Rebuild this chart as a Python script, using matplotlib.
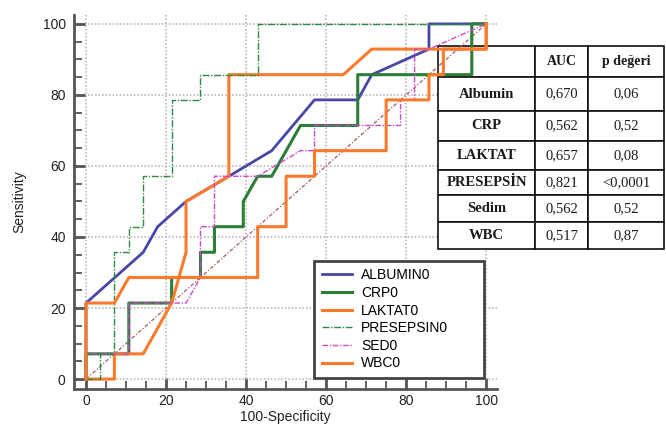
import matplotlib
matplotlib.use("Agg")
import matplotlib.pyplot as plt
from matplotlib.patches import Rectangle
from matplotlib.ticker import MultipleLocator

plt.rcParams['font.family'] = ['Liberation Sans', 'DejaVu Sans']

# ---------------- data ----------------
albumin_x = [0, 0, 14.3, 17.9, 25.0, 35.7, 46.4, 57.1, 67.9, 71.4, 85.7, 85.7, 100]
albumin_y = [0, 21.4, 35.7, 42.9, 50.0, 57.1, 64.3, 78.6, 78.6, 85.7, 92.9, 100, 100]

crp_x = [0, 0, 10.7, 10.7, 21.4, 21.4, 28.6, 28.6, 32.1, 32.1, 39.3, 39.3, 42.9, 46.4, 53.6, 67.9, 67.9, 96.4, 96.4, 100]
crp_y = [0, 7.1, 7.1, 21.4, 21.4, 28.6, 28.6, 35.7, 35.7, 42.9, 42.9, 50.0, 57.1, 57.1, 71.4, 71.4, 85.7, 85.7, 100, 100]

laktat_x = [0, 7.1, 7.1, 14.3, 21.4, 25.0, 25.0, 35.7, 35.7, 64.3, 71.4, 100, 100]
laktat_y = [0, 0, 7.1, 7.1, 21.4, 35.7, 50.0, 57.1, 85.7, 85.7, 92.9, 92.9, 100]

presepsin_x = [0, 3.6, 3.6, 7.1, 7.1, 10.7, 10.7, 14.3, 14.3, 21.4, 21.4, 28.6, 28.6, 42.9, 42.9, 100]
presepsin_y = [0, 0, 7.1, 7.1, 35.7, 35.7, 42.9, 42.9, 57.1, 57.1, 78.6, 78.6, 85.7, 85.7, 100, 100]

sed_x = [0, 0, 10.7, 10.7, 25.0, 28.6, 28.6, 32.1, 32.1, 42.9, 53.6, 57.1, 57.1, 78.6, 78.6, 82.1, 82.1, 85.7, 100]
sed_y = [0, 7.1, 7.1, 21.4, 21.4, 28.6, 42.9, 42.9, 57.1, 57.1, 64.3, 64.3, 71.4, 71.4, 78.6, 78.6, 92.9, 92.9, 100]

wbc_x = [0, 0, 7.1, 10.7, 42.9, 42.9, 50.0, 50.0, 57.1, 57.1, 75.0, 75.0, 85.7, 85.7, 89.3, 89.3, 100, 100]
wbc_y = [0, 21.4, 21.4, 28.6, 28.6, 42.9, 42.9, 57.1, 57.1, 64.3, 64.3, 78.6, 78.6, 85.7, 85.7, 92.9, 92.9, 100]

ref_x = [0, 100]
ref_y = [0, 100]

table_header = ["", "AUC", "p değeri"]
table_names = ["Albumin", "CRP", "LAKTAT", "PRESEPSİN", "Sedim", "WBC"]
table_auc = ["0,670", "0,562", "0,657", "0,821", "0,562", "0,517"]
table_p = ["0,06", "0,52", "0,08", "<0,0001", "0,52", "0,87"]

# ---------------- figure ----------------
W, H = 666, 425
fig = plt.figure(figsize=(W / 100, H / 100), dpi=100)
ax = fig.add_axes([74 / W, 36 / H, 423 / W, 374 / H])
ax.set_axisbelow(True)

blue = '#4747a8'
green = '#2b7d38'
orange = '#fb7a2c'
pgreen = '#2f8a40'
magenta = '#cc48c8'

ax.plot(ref_x, ref_y, color='#a85a5e', lw=0.9, dashes=(3, 1.5, 1, 1.5), zorder=2)
ax.plot(albumin_x, albumin_y, color=blue, lw=2.0, label='ALBUMIN0', zorder=3)
ax.plot(crp_x, crp_y, color=green, lw=2.2, label='CRP0', zorder=3)
ax.plot(laktat_x, laktat_y, color=orange, lw=2.2, label='LAKTAT0', zorder=3)
ax.plot(presepsin_x, presepsin_y, color=pgreen, lw=1.0, dashes=(5, 1.2, 1, 1.2),
        label='PRESEPSIN0', zorder=3)
ax.plot(sed_x, sed_y, color=magenta, lw=1.0, dashes=(4, 1.2, 1, 1.2), label='SED0', zorder=3)
ax.plot(wbc_x, wbc_y, color=orange, lw=2.2, label='WBC0', zorder=3)

ax.set_xlim(-3, 102.7)
ax.set_ylim(-2.8, 102.5)
ax.xaxis.set_major_locator(MultipleLocator(20))
ax.yaxis.set_major_locator(MultipleLocator(20))
ax.xaxis.set_minor_locator(MultipleLocator(5))
ax.yaxis.set_minor_locator(MultipleLocator(5))

for s in ['top', 'right']:
    ax.spines[s].set_visible(False)
for s in ['left', 'bottom']:
    ax.spines[s].set_color('#555555')
    ax.spines[s].set_linewidth(2.0)

ax.tick_params(which='major', direction='in', length=8, width=2.0, color='#555555',
               labelsize=10, labelcolor='#222222', pad=6)
ax.tick_params(axis='x', which='major', pad=3.5)
ax.tick_params(which='minor', direction='in', length=5.5, width=1.3, color='#555555')

ax.grid(which='major', color='#b0b0b0', lw=1.1, linestyle=(0, (1, 1.3)))

ax.set_ylabel('Sensitivity', fontsize=10, color='#222222', labelpad=12)
ax.set_xlabel('100-Specificity', fontsize=10, color='#222222', labelpad=1.5)

leg = ax.legend(loc='lower left', bbox_to_anchor=(314 / W, 47 / H, 170 / W, 113 / H),
                bbox_transform=fig.transFigure, mode='expand', fontsize=10,
                handlelength=2.2, handletextpad=0.65, borderpad=0.55, labelspacing=0.26,
                fancybox=False, framealpha=1, edgecolor='#444444', borderaxespad=0)
leg.get_frame().set_linewidth(2.0)

# ---------------- table ----------------
col_edges = [438, 535, 588, 664]
row_edges = [46, 77, 111, 141, 170, 195, 222, 249]
rows = [table_header] + [[n, a, p] for n, a, p in zip(table_names, table_auc, table_p)]
for r, row in enumerate(rows):
    for c, txt in enumerate(row):
        x0, x1 = col_edges[c], col_edges[c + 1]
        y0, y1 = row_edges[r], row_edges[r + 1]
        rect = Rectangle((x0 / W, 1 - y1 / H), (x1 - x0) / W, (y1 - y0) / H,
                         transform=fig.transFigure, facecolor='white', edgecolor='#111111',
                         lw=1.2, zorder=1, clip_on=False)
        ax.add_patch(rect)
        if txt:
            bold = (r == 0) or (c == 0)
            ax.text((x0 + x1) / 2 / W, 1 - (y0 + y1) / 2 / H, txt, transform=fig.transFigure,
                    ha='center', va='center', fontsize=10.5 if r > 0 else 10,
                    fontweight='bold' if bold else 'normal', color='#1a1a1a',
                    family=['Liberation Serif', 'DejaVu Serif'], zorder=1.5, clip_on=False)

fig.savefig('out.png', dpi=100)
